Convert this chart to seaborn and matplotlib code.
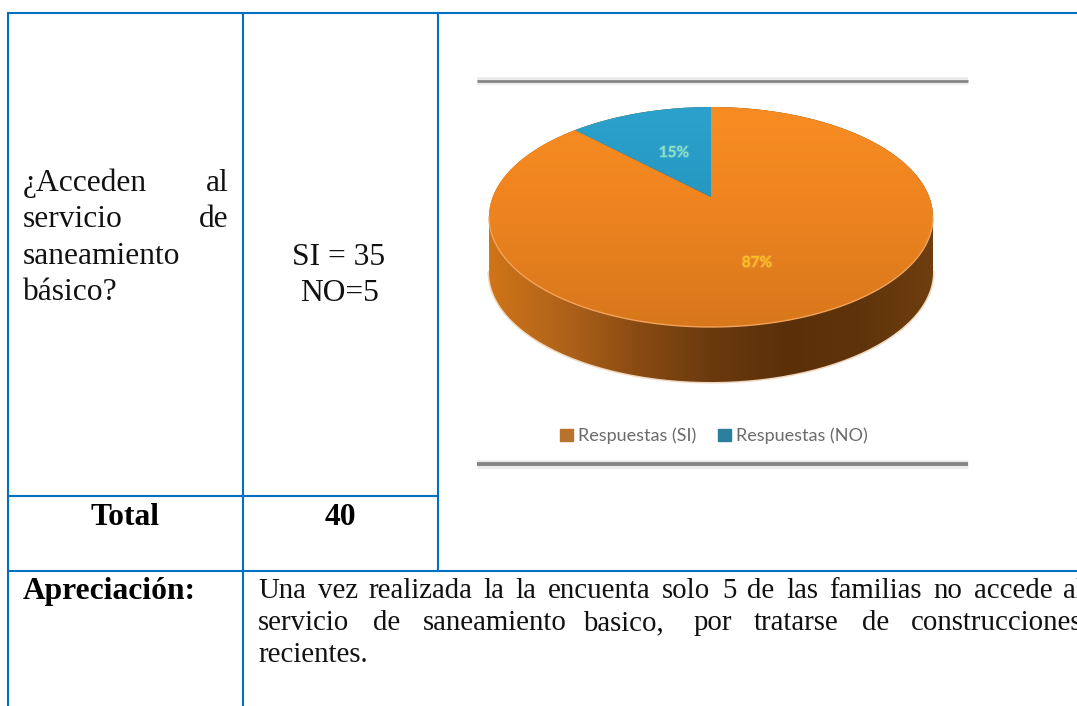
import numpy as np
import seaborn as sns
import matplotlib
matplotlib.use("Agg")
import matplotlib.pyplot as plt
import matplotlib.patheffects as pe
from matplotlib.patches import Patch, PathPatch
from matplotlib.path import Path

# shares as drawn in the picture, printed labels do not add up to 100
respuestas = ["Respuestas (SI)", "Respuestas (NO)"]
porciones = [89.5, 10.5]
etiquetas = ["87%", "15%"]

pregunta = [("¿Acceden", 23, 191, "left"), ("al", 229, 191, "right"),
	("servicio", 23, 227, "left"), ("de", 229, 227, "right"),
	("saneamiento", 23, 264, "left"), ("básico?", 23, 300, "left")]
conteos = [("SI = 35", 339, 265), ("NO=5", 340, 301)]

linea1 = ["Una", "vez", "realizada", "la", "la", "encuenta", "solo", "5", "de", "las", "familias", "no", "accede", "al"]
x_linea1 = [258, 318, 368, 483, 515, 548, 662, 722, 747, 786, 829, 933, 974, 1063]
linea2 = ["servicio", "de", "saneamiento", "basico,", "por", "tratarse", "de", "construcciones"]
x_linea2 = [258, 373, 423, 583, 694, 754, 862, 911]

AZUL = "#0070c0"
W, H = 1077, 706
CX, CY, RX, RY = 711, 217, 222, 110
FONDO_Y = 55
APEX = 20


def warp(path):
	# moves the apex up, the rim stays where it is
	v = path.vertices.copy()
	r = np.hypot(v[:, 0], v[:, 1])
	v[:, 1] = v[:, 1] + APEX / RY * np.clip(1 - r, 0, 1)
	return Path(v, path.codes)


def fill(ax, path, cmap, horizontal=False):
	grad = np.linspace(0, 1, 256)
	grad = grad.reshape(1, -1) if horizontal else grad.reshape(-1, 1)
	extent = (-1.02, 1.02, 1.02, -1.02 - FONDO_Y / RY)
	if horizontal:
		extent = (-1.02, 1.02, -1.02 - FONDO_Y / RY, 1.02)
	im = ax.imshow(grad, cmap=cmap, extent=extent, aspect="auto", zorder=2)
	im.set_clip_path(PathPatch(path, transform=ax.transData))
	return im


sns.set_theme(style="white")
plt.rcParams["font.family"] = ["Liberation Serif", "DejaVu Sans"]

fig = plt.figure(figsize=(W / 100, H / 100), dpi=100)
ax = fig.add_axes([0, 0, 1, 1])
ax.set_xlim(0, W)
ax.set_ylim(H, 0)
ax.axis("off")

# table grid
ax.plot([8, W], [13, 13], color=AZUL, lw=1.5)
ax.plot([8, 8], [13, H], color=AZUL, lw=1.5)
ax.plot([243, 243], [13, H], color=AZUL, lw=1.5)
ax.plot([438, 438], [13, 571], color=AZUL, lw=1.5)
ax.plot([8, 438], [496, 496], color=AZUL, lw=1.5)
ax.plot([8, W], [571, 571], color=AZUL, lw=1.5)

for txt, x, y, ha in pregunta:
	ax.text(x, y, txt, fontsize=22.7, ha=ha, va="baseline", color="#111111")
for txt, x, y in conteos:
	ax.text(x, y, txt, fontsize=22.7, ha="center", va="baseline", color="#111111")
ax.text(125, 525, "Total", fontsize=22.7, weight="bold", ha="center", va="baseline", color="black")
ax.text(340, 525, "40", fontsize=22.7, weight="bold", ha="center", va="baseline", color="black")
ax.text(23, 599, "Apreciación:", fontsize=22.7, weight="bold", va="baseline", color="black")

# the two justified lines run past the right edge, as in the reference
for txt, x in zip(linea1, x_linea1):
	ax.text(x, 598, txt, fontsize=20.8, va="baseline", color="#111111")
for txt, x in zip(linea2, x_linea2):
	ax.text(x, 630, txt, fontsize=20.8, va="baseline", color="#111111")
ax.text(258, 662, "recientes.", fontsize=20.8, va="baseline", color="#111111")

# grey rules of the pasted picture
for y, lw in [(81, 2.0), (464, 2.8)]:
	ax.plot([477, 968], [y, y], color="#a8a8a8", lw=lw + 3.5, alpha=0.22, solid_capstyle="butt")
	ax.plot([477, 968], [y, y], color="#858585", lw=lw, solid_capstyle="butt")

# pie axes, squashed, unit circle = top ellipse of the disc
left, right, top, bottom = 470, 980, 70, 480
ax2 = fig.add_axes([left / W, 1 - bottom / H, (right - left) / W, (bottom - top) / H])
ax2.patch.set_alpha(0)

wedges, _ = ax2.pie(porciones, startangle=90, counterclock=False, radius=1,
	colors=["#e8801f", "#2393bd"], wedgeprops={"linewidth": 0})
ax2.set_aspect("auto")
xlim = ((left - CX) / RX, (right - CX) / RX)
ylim = ((CY - bottom) / RY, (CY - top) / RY)

t = np.linspace(0, np.pi, 120)
x_arc = np.cos(t)
y_arc = np.sin(t)
depth = FONDO_Y / RY
pared = Path(np.column_stack([np.r_[1, x_arc, -1, -x_arc[::-1][::-1]],
	np.r_[0, y_arc, -depth, -y_arc - depth]]))

cmap_pared = sns.blend_palette(["#d27518", "#b0641a", "#8a4b13", "#6a3a0e", "#5b3009", "#60340b", "#6f3f0f"], as_cmap=True)
cmap_si = sns.blend_palette(["#cf7019", "#de7b1d", "#f08520", "#f78d22"], as_cmap=True)
cmap_no = sns.blend_palette(["#1b7396", "#2393bd", "#2ba2cc"], as_cmap=True)

fill(ax2, pared, cmap_pared, horizontal=True)
for w, c in zip(wedges, [cmap_si, cmap_no]):
	w.set_visible(False)
	p = warp(w.get_path())
	im = fill(ax2, p, c)
	im.set_zorder(3)

# light rim between the top and the side, soft edge under the disc
ax2.plot(x_arc, -y_arc, color="#f2a35c", lw=1.0, zorder=4)
ax2.plot(x_arc, -y_arc - depth, color="#c9822f", lw=2.2, alpha=0.3, zorder=1)
ax2.set_xlim(*xlim)
ax2.set_ylim(*ylim)

soft = [pe.withStroke(linewidth=1.6, foreground="#ffffff", alpha=0.12)]
ax2.text(757, 263, etiquetas[0], transform=ax.transData, fontsize=11, weight="bold",
	family="Lato", color="#ffc21a", ha="center", va="center", zorder=6, path_effects=soft)
ax2.text(674, 153, etiquetas[1], transform=ax.transData, fontsize=11, weight="bold",
	family="Lato", color="#8fe3c4", ha="center", va="center", zorder=6, path_effects=soft)

handles = [Patch(color="#b8722c"), Patch(color="#2b7f9c")]
leg = ax2.legend(handles, respuestas, ncol=2, frameon=False, loc="center",
	bbox_to_anchor=(714, 436), bbox_transform=ax.transData,
	prop={"family": "Lato", "size": 13}, labelcolor="#6b6b6b",
	handlelength=0.72, handleheight=0.6, handletextpad=0.3, columnspacing=1.2)

plt.savefig("out.png", dpi=100)
plt.close()
